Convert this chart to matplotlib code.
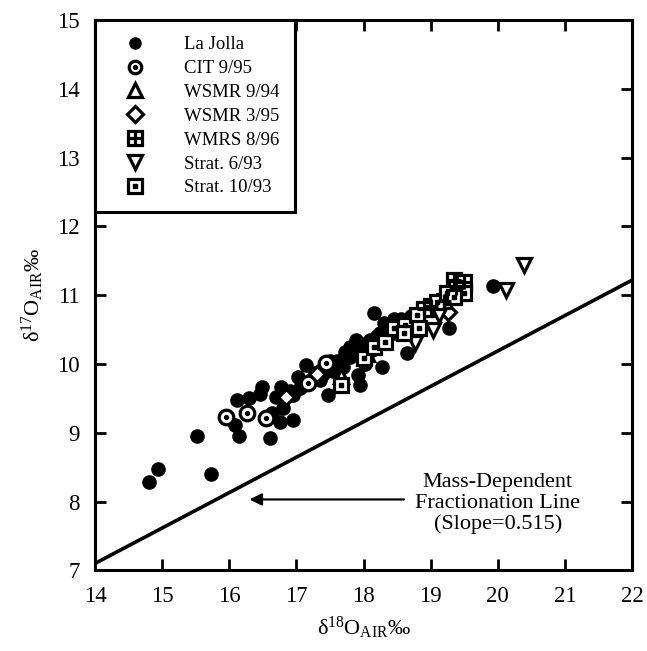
import matplotlib
matplotlib.use("Agg")

import numpy as np
import matplotlib.pyplot as plt
from matplotlib.lines import Line2D

plt.rcParams["font.family"] = ["Liberation Serif", "DejaVu Serif"]
plt.rcParams["mathtext.fontset"] = "custom"
plt.rcParams["mathtext.rm"] = "Liberation Serif"
plt.rcParams["mathtext.it"] = "Liberation Serif:italic"

# ------------------ DATA ------------------

la_jolla_x = [14.8, 14.93, 15.52, 15.73, 16.09, 16.11, 16.14, 16.29, 16.46, 16.48,
              16.61, 16.63, 16.70, 16.76, 16.77, 16.80, 16.95, 17.02, 17.14, 17.27,
              17.35, 17.47, 17.55, 17.61, 17.72, 17.79, 17.88, 17.91, 17.94, 17.98,
              18.05, 18.10, 18.16, 18.20, 18.28, 18.31, 18.31, 18.40, 18.50, 18.55,
              18.65, 18.70, 18.85, 18.95, 19.27, 19.93, 16.90, 17.10, 17.40, 17.70,
              18.00, 18.25, 18.60, 17.20, 17.50, 17.65, 17.80, 17.85, 18.12, 18.22,
              18.35, 18.45, 18.72, 18.80, 18.45, 18.02, 16.95, 17.05]
la_jolla_y = [8.28, 8.48, 8.96, 8.40, 9.11, 9.47, 8.96, 9.50, 9.57, 9.66,
              8.92, 9.28, 9.52, 9.15, 9.66, 9.36, 9.18, 9.81, 9.98, 9.87,
              9.76, 9.55, 9.90, 10.05, 10.17, 10.24, 10.35, 9.84, 9.69, 10.20,
              10.30, 10.35, 10.74, 10.40, 9.95, 10.59, 10.49, 10.55, 10.60, 10.65,
              10.16, 10.70, 10.75, 10.80, 10.53, 11.13, 9.60, 9.70, 9.85, 9.95,
              10.15, 10.45, 10.60, 9.75, 10.05, 9.95, 10.10, 10.25, 10.20, 10.30,
              10.40, 10.45, 10.55, 10.65, 10.65, 10.00, 9.55, 9.65]

cit_x = [15.95, 16.26, 16.54, 17.17, 17.44]
cit_y = [9.23, 9.28, 9.21, 9.73, 10.01]

wsmr94_x = [17.66, 18.05, 19.05]
wsmr94_y = [9.82, 10.15, 10.80]

wsmr95_x = [16.85, 17.30, 19.25]
wsmr95_y = [9.52, 9.85, 10.75]

wmrs_x = [19.34, 19.49, 19.38, 19.00, 19.20, 18.90]
wmrs_y = [11.22, 11.19, 11.10, 10.85, 10.92, 10.80]

strat693_x = [18.76, 19.04, 19.12, 20.12, 20.39]
strat693_y = [10.30, 10.49, 10.71, 11.07, 11.44]

strat1093_x = [17.66, 18.01, 18.16, 18.32, 18.45, 18.62, 18.79, 18.82, 19.09, 19.24,
               19.50, 18.60, 19.34]
strat1093_y = [9.69, 10.08, 10.24, 10.32, 10.52, 10.56, 10.71, 10.53, 10.90, 11.03,
               11.03, 10.45, 10.97]

legend_labels = ["La Jolla", "CIT 9/95", "WSMR 9/94", "WSMR 3/95",
                 "WMRS 8/96", "Strat. 6/93", "Strat. 10/93"]

slope = 0.515
intercept = -0.11
line_x = [14, 22]

# ------------------ FIGURE ------------------

fig = plt.figure(figsize=(6.47, 6.51), dpi=100)
ax = fig.add_axes([0.147, 0.124, 0.830, 0.845])

ms = 9.5
mew = 2.3
open_kw = dict(linestyle="none", markerfacecolor="white", markeredgecolor="black",
               markeredgewidth=mew, markersize=ms)
dot_kw = dict(linestyle="none", color="black", markersize=2.8)

ax.plot(la_jolla_x, la_jolla_y, "o", color="black", markersize=ms, linestyle="none", zorder=3)

ax.plot(cit_x, cit_y, "o", zorder=4, **dict(open_kw, markersize=ms + 1))
ax.plot(cit_x, cit_y, "o", zorder=5, **dot_kw)

ax.plot(wsmr94_x, wsmr94_y, "^", zorder=4, **open_kw)
ax.plot(wsmr95_x, wsmr95_y, "D", zorder=4, **dict(open_kw, markersize=ms - 1.5))

ax.plot(wmrs_x, wmrs_y, "s", zorder=4, **open_kw)
ax.plot(wmrs_x, wmrs_y, "+", zorder=5, linestyle="none", color="black", markersize=ms,
        markeredgewidth=mew)

ax.plot(strat693_x, strat693_y, "v", zorder=4, **open_kw)

ax.plot(strat1093_x, strat1093_y, "s", zorder=4, **open_kw)
ax.plot(strat1093_x, strat1093_y, "s", zorder=5, **dot_kw)

lx = np.array(line_x, dtype=float)
ax.plot(lx, slope * lx + intercept, color="black", linewidth=2.6, zorder=2)

ax.annotate("", xy=(16.3, 8.03), xytext=(18.6, 8.03),
            arrowprops=dict(arrowstyle="-|>", color="black", lw=1.6,
                            mutation_scale=18, shrinkA=0, shrinkB=0))
ax.text(20.0, 7.97, "Mass-Dependent\nFractionation Line\n(Slope=0.515)",
        ha="center", va="center", fontsize=16, linespacing=1.12)

ax.set_xlim(14, 22)
ax.set_ylim(7, 15)
ax.set_xticks(range(14, 23))
ax.set_yticks(range(7, 16))
ax.tick_params(direction="in", length=8, width=2, labelsize=16.5, top=True, right=True,
               pad=11)
for sp in ax.spines.values():
    sp.set_linewidth(2.2)

ax.set_xlabel("δ$^{18}$O$_{\\mathrm{AIR}}$‰", fontsize=16, labelpad=6)
ax.set_ylabel("δ$^{17}$O$_{\\mathrm{AIR}}$‰", fontsize=16, labelpad=8)

# ------------------ LEGEND ------------------

h_la = Line2D([], [], marker="o", color="black", linestyle="none", markersize=ms - 1.5)
h_cit = (Line2D([], [], marker="o", **dict(open_kw, markersize=ms - 0.5)),
         Line2D([], [], marker="o", **dot_kw))
h_w94 = Line2D([], [], marker="^", **open_kw)
h_w95 = Line2D([], [], marker="D", **dict(open_kw, markersize=ms - 1.5))
h_wmrs = (Line2D([], [], marker="s", **open_kw),
          Line2D([], [], marker="+", linestyle="none", color="black",
                 markersize=ms, markeredgewidth=mew))
h_s693 = Line2D([], [], marker="v", **open_kw)
h_s1093 = (Line2D([], [], marker="s", **open_kw),
           Line2D([], [], marker="s", **dot_kw))

leg = ax.legend([h_la, h_cit, h_w94, h_w95, h_wmrs, h_s693, h_s1093], legend_labels,
                loc="upper left", bbox_to_anchor=(0.0, 1.0), fontsize=13.5,
                frameon=True, fancybox=False, edgecolor="black", framealpha=1,
                borderpad=0.85, labelspacing=0.36, handlelength=2.6,
                handletextpad=1.3, borderaxespad=0)
leg.get_frame().set_linewidth(2.2)
leg.set_zorder(10)

plt.savefig("out.png", dpi=100)
plt.close()
